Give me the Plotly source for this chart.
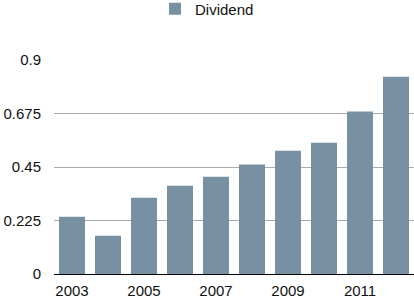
import plotly.graph_objects as go

years = [2003, 2004, 2005, 2006, 2007, 2008, 2009, 2010, 2011, 2012]
dividend = [0.241, 0.161, 0.321, 0.371, 0.409, 0.46, 0.518, 0.552, 0.683, 0.83]
y_ticks = [0, 0.225, 0.45, 0.675, 0.9]
y_tick_text = ["0", "0.225", "0.45", "0.675", "0.9"]
x_ticks = [2003, 2005, 2007, 2009, 2011]

FONT = "Liberation Sans, Arial, Helvetica, sans-serif"
BAR = "#7791a2"

fig = go.Figure()
fig.add_trace(go.Bar(
    x=years, y=dividend, name="Dividend",
    marker=dict(color=BAR, line=dict(width=0)),
    showlegend=True,
))

fig.update_layout(
    width=414, height=300,
    margin=dict(l=54, r=0, t=60, b=26),
    paper_bgcolor="white", plot_bgcolor="white",
    font=dict(family=FONT, size=15, color="#111111"),
    bargap=0.278,
    showlegend=True,
    legend=dict(
        orientation="h", x=0.425, xanchor="center", y=0.97, yanchor="middle",
        yref="container", font=dict(size=15, family=FONT, color="#111111"),
        bgcolor="rgba(0,0,0,0)", itemwidth=30,
    ),
    xaxis=dict(
        range=[2002.5, 2012.5], tickmode="array", tickvals=x_ticks,
        ticktext=[str(v) for v in x_ticks],
        showgrid=False, zeroline=False,
        showline=True, linecolor="black", linewidth=1,
        ticks="", ticklabelstandoff=3,
        tickfont=dict(size=15, family=FONT, color="#111111"),
        fixedrange=True,
    ),
    yaxis=dict(
        range=[0, 0.9], tickmode="array", tickvals=y_ticks, ticktext=y_tick_text,
        showgrid=True, gridcolor="#aaaaaa", gridwidth=1,
        zeroline=False, showline=False, ticks="",
        ticklabelstandoff=12,
        tickfont=dict(size=15, family=FONT, color="#111111"),
        fixedrange=True,
    ),
)

fig.write_html("out.html")
